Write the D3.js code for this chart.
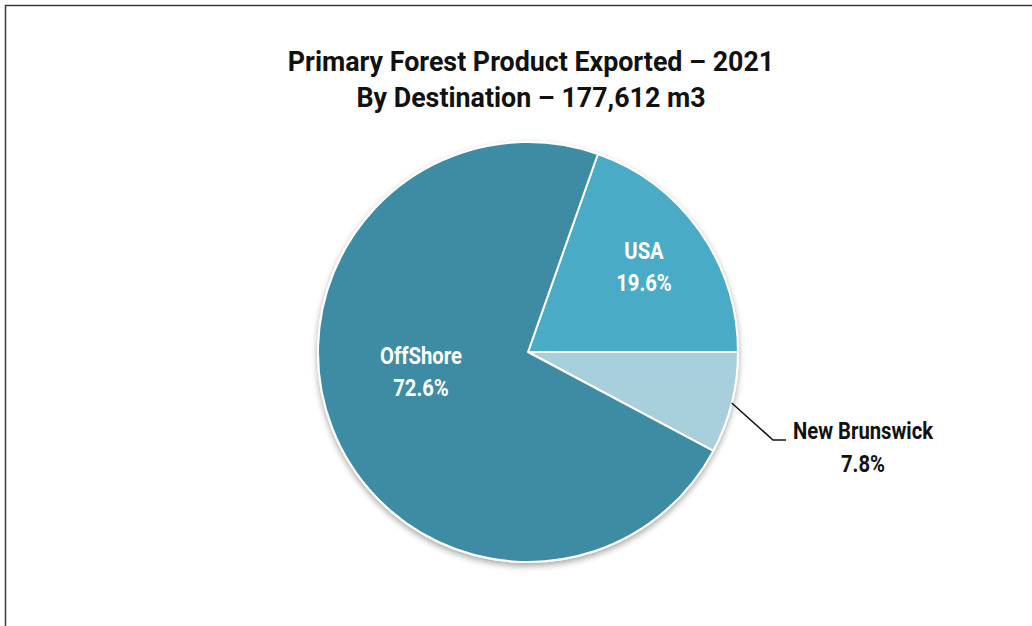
<!DOCTYPE html>
<html>
<head>
<meta charset="utf-8">
<script src="https://cdn.jsdelivr.net/npm/d3@7"></script>
<style>
  html, body { margin: 0; padding: 0; background: #fff; }
  svg { display: block; }
  text { font-family: Roboto, "Liberation Sans", sans-serif; font-weight: 700; }
</style>
</head>
<body>
<svg id="chart" width="1032" height="626"></svg>
<script>
// Export destinations and their share of the 177,612 m3 total
const destinations = ["USA", "New Brunswick", "OffShore"];
const shares = [19.6, 7.8, 72.6];
const sliceColors = ["#4aabc5", "#a8cfdc", "#3d8ca3"];
const titleLines = ["Primary Forest Product Exported \u2013 2021", "By Destination \u2013 177,612 m3"];

const W = 1032, H = 626;
const svg = d3.select("#chart");

const defs = svg.append("defs");
const shadow = defs.append("filter").attr("id", "pieShadow")
  .attr("x", "-20%").attr("y", "-20%").attr("width", "140%").attr("height", "140%");
shadow.append("feDropShadow")
  .attr("dx", 0).attr("dy", 3).attr("stdDeviation", 3)
  .attr("flood-color", "#000").attr("flood-opacity", 0.35);

// Frame around the chart area
svg.append("rect").attr("x", 5.5).attr("y", 5.5)
  .attr("width", W + 20).attr("height", H + 20)
  .attr("fill", "#fff").attr("stroke", "#3a3a3a").attr("stroke-width", 1.5);

// Title
const title = svg.append("text").attr("text-anchor", "middle")
  .attr("font-size", 26.8).attr("fill", "#111");
titleLines.forEach((t, i) => {
  title.append("tspan").attr("x", 531).attr("y", 71 + i * 36).text(t);
});

// Pie
const cx = 528, cy = 352, r = 210;
const data = destinations.map((d, i) => ({ name: d, value: shares[i], color: sliceColors[i] }));
const startA = Math.PI / 2 - (shares[0] / 100) * 2 * Math.PI;
const pie = d3.pie().value(d => d.value).sort(null)
  .startAngle(startA).endAngle(startA + 2 * Math.PI);
const arcs = pie(data);
const arc = d3.arc().innerRadius(0).outerRadius(r);

const g = svg.append("g").attr("transform", `translate(${cx},${cy})`);
g.append("g").attr("filter", "url(#pieShadow)")
  .selectAll("path").data(arcs).join("path")
  .attr("d", arc).attr("fill", d => d.data.color)
  .attr("stroke", "#fff").attr("stroke-width", 2).attr("stroke-linejoin", "round");

// Inside labels
arcs.forEach(a => {
  if (a.data.name === "New Brunswick") return;
  const [x, y] = a.data.name === "USA" ? [116, -93] : [-107, 12];
  const t = g.append("text").attr("text-anchor", "middle").attr("fill", "#fff")
    .attr("font-size", 23)
    .attr("transform", `translate(${x},${y}) scale(0.88,1)`);
  t.append("tspan").attr("x", 0).attr("y", 0).text(a.data.name);
  t.append("tspan").attr("x", 0).attr("y", 32).text(a.data.value.toFixed(1) + "%");
});

// Outside label with leader line for the small slice
const nb = arcs.find(a => a.data.name === "New Brunswick");
const mid = (nb.startAngle + nb.endAngle) / 2;
const p0 = [Math.sin(mid) * r, -Math.cos(mid) * r];
const p1 = [245, 88];
const p2 = [258, 88];
g.append("path")
  .attr("d", d3.line()([p0, p1, p2]))
  .attr("fill", "none").attr("stroke", "#111").attr("stroke-width", 1.5);
const nt = g.append("text").attr("text-anchor", "middle").attr("fill", "#111")
  .attr("font-size", 23)
  .attr("transform", `translate(335,87) scale(0.88,1)`);
nt.append("tspan").attr("x", 0).attr("y", 0).text(nb.data.name);
nt.append("tspan").attr("x", 0).attr("y", 33).text(nb.data.value.toFixed(1) + "%");
</script>
</body>
</html>
